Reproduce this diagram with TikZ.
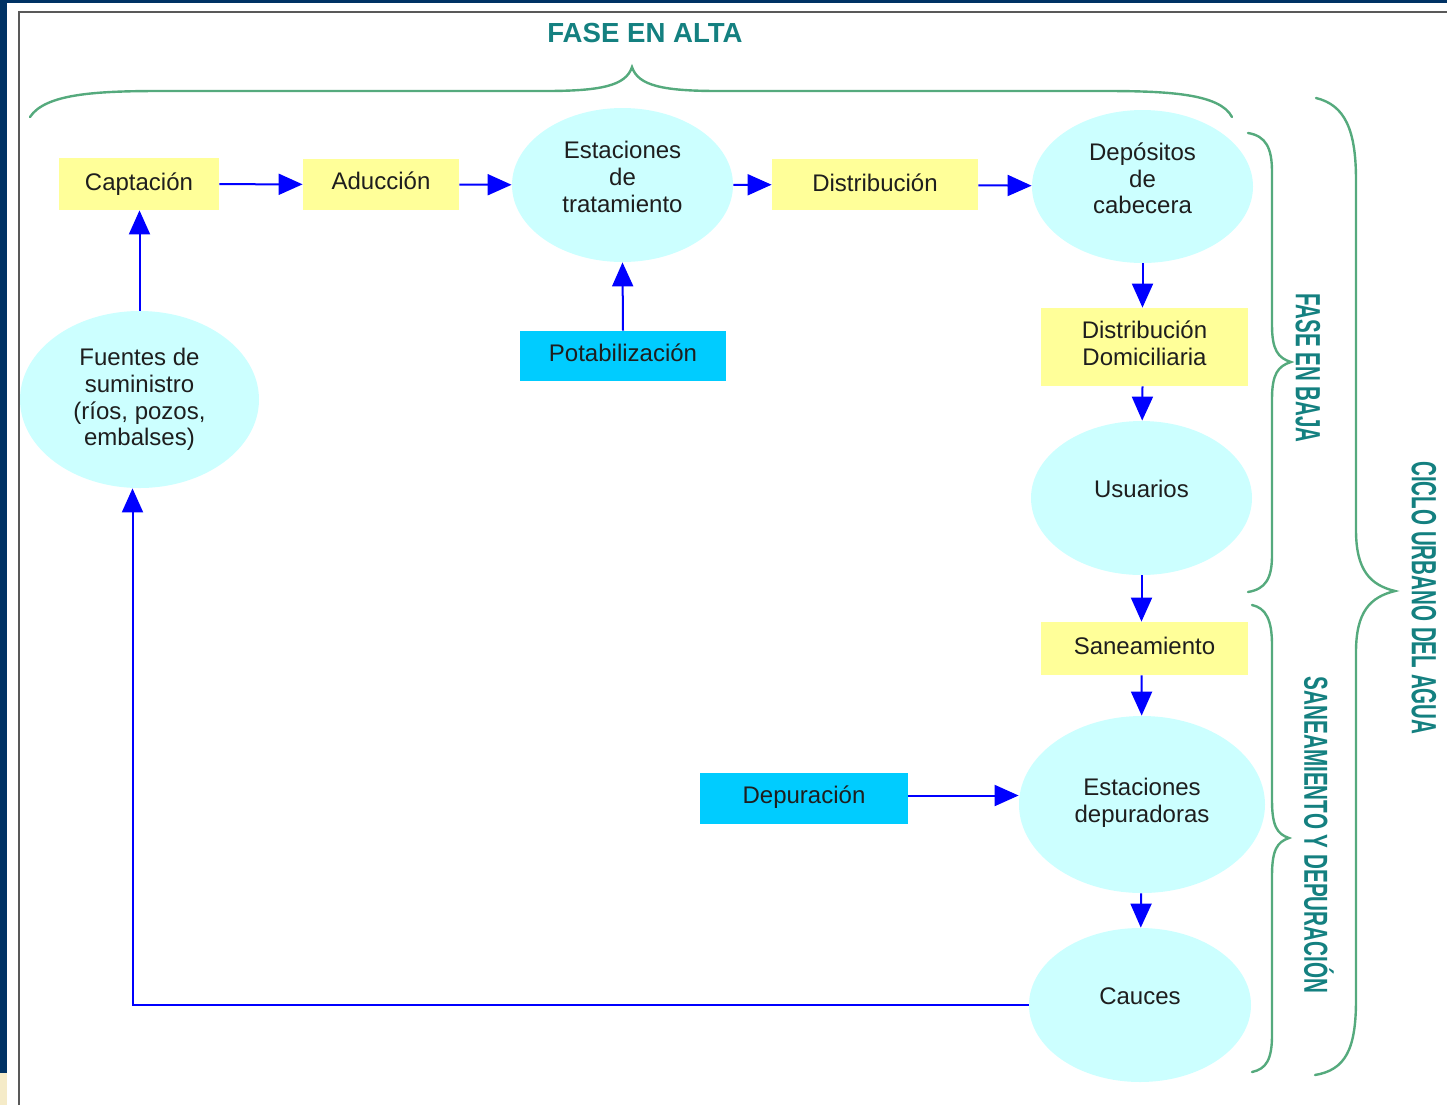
\documentclass[tikz,border=0pt]{standalone}
\usepackage{fontspec}
\setmainfont{Liberation Sans}
\usepackage{graphicx}
\usetikzlibrary{shapes.geometric,arrows.meta,calc}
\definecolor{navy}{RGB}{0,50,100}
\definecolor{cream}{RGB}{245,235,200}
\definecolor{yel}{RGB}{255,255,153}
\definecolor{lcyan}{RGB}{204,255,255}
\definecolor{dcyan}{RGB}{0,204,255}
\definecolor{brgreen}{RGB}{85,170,125}
\definecolor{tealtxt}{RGB}{20,128,128}
\definecolor{txt}{RGB}{30,30,30}
\tikzset{
  base/.style={font=\fontsize{12}{13.3}\selectfont, text=txt, align=center, inner sep=0pt},
  ybox/.style={base, rectangle, fill=yel},
  cbox/.style={base, rectangle, fill=dcyan},
  ell/.style={base, ellipse, fill=lcyan},
  lab/.style={base, label distance=0pt},
  conn/.style={blue, line width=1pt, -{Triangle[length=12pt,width=10.5pt]}},
  brace/.style={brgreen, line width=1.2pt, line cap=round},
  ttl/.style={text=tealtxt, inner sep=0pt, font=\fontsize{13.8}{15}\selectfont\bfseries},
  vttl/.style={text=tealtxt, inner sep=0pt, rotate=-90, font=\fontsize{17.5}{20}\selectfont\bfseries}
}
\begin{document}
\begin{tikzpicture}[x=0.5pt,y=-0.5pt]
\useasboundingbox (0,0) rectangle (1447,1105);
% frame
\fill[navy] (0,0) rectangle (1447,3);
\fill[navy] (0,0) rectangle (7,1073);
\fill[cream] (0,1073) rectangle (7,1105);
\draw[gray!70!black, line width=1pt] (19,1105) -- (19,12) -- (1447,12);

% nodes
\node[ybox, minimum width=80pt, minimum height=26pt] (cap) at (139,184) {Captación};
\node[ybox, minimum width=78pt, minimum height=25.5pt,
  label={[lab, yshift=1.8pt]center:Aducción}] (adu) at (381,184.5) {};
\node[ell, minimum width=110.5pt, minimum height=77pt,
  label={[lab, yshift=4pt]center:{Estaciones\\de\\tratamiento}}] (est) at (622.5,185) {};
\node[ybox, minimum width=103pt, minimum height=25.5pt,
  label={[lab, yshift=0.8pt]center:Distribución}] (dist) at (875,184.5) {};
\node[ell, minimum width=110.5pt, minimum height=76.5pt,
  label={[lab, yshift=4pt]center:{Depósitos\\de\\cabecera}}] (depo) at (1142.5,186.5) {};
\node[ybox, minimum width=103.5pt, minimum height=39pt,
  label={[lab, yshift=2pt]center:{Distribución\\Domiciliaria}}] (dd) at (1144.5,347) {};
\node[ell, minimum width=110.5pt, minimum height=77pt,
  label={[lab, yshift=4.5pt]center:Usuarios}] (usu) at (1141.5,498) {};
\node[ybox, minimum width=103.5pt, minimum height=26.5pt,
  label={[lab, yshift=1.5pt]center:Saneamiento}] (san) at (1144.5,648.5) {};
\node[ell, minimum width=123pt, minimum height=88.5pt,
  label={[lab, yshift=1pt]center:{Estaciones\\depuradoras}}] (edep) at (1142,804.5) {};
\node[ell, minimum width=111pt, minimum height=77pt,
  label={[lab, yshift=4.5pt]center:Cauces}] (cau) at (1140,1005) {};
\node[cbox, minimum width=104pt, minimum height=25.5pt,
  label={[lab, yshift=0.8pt]center:Depuración}] (dep) at (804,798.5) {};
\node[cbox, minimum width=103pt, minimum height=25pt,
  label={[lab, yshift=1.5pt]center:Potabilización}] (pot) at (623,356) {};
\node[ell, minimum width=119.5pt, minimum height=88.5pt] (fue) at (139.5,399.5) {Fuentes de\\suministro\\(ríos, pozos,\\embalses)};

% connectors
\draw[conn] (cap) -- (adu);
\draw[conn] (adu) -- (est);
\draw[conn] (est) -- (dist);
\draw[conn] (dist) -- (depo);
\draw[conn] (depo.south) -- (depo.south |- dd.north);
\draw[conn] (dd.south -| depo.south) -- (usu);
\draw[conn] (usu.south) -- (usu.south |- san.north);
\draw[conn] (san.south -| usu.south) -- (edep);
\draw[conn] (edep) -- (cau);
\coordinate (dpo) at ([yshift=1.5pt]dep.east);
\draw[conn] (dpo) -- (dpo -| edep.west);
\draw[conn] (pot.north) -- (est.south);
\draw[conn] (fue.north) -- (fue.north |- cap.south);
\coordinate (fb) at ([xshift=-3.5pt]fue.south);
\draw[conn] (cau.west) -| (fb);

% braces
\draw[brace] (30,117) .. controls (45,94) and (95,91) .. (160,91) -- (545,91)
  .. controls (600,91) and (626,86) .. (632,67)
  .. controls (638,86) and (664,91) .. (719,91) -- (1105,91)
  .. controls (1170,91) and (1220,94) .. (1232,117);
\draw[brace] (1248,133) .. controls (1266,136) and (1272,148) .. (1272,172) -- (1272,325)
  .. controls (1272,350) and (1278,358) .. (1291,362)
  .. controls (1278,366) and (1272,374) .. (1272,399) -- (1272,555)
  .. controls (1272,578) and (1266,589) .. (1248,592);
\draw[brace] (1252,605) .. controls (1266,608) and (1272,620) .. (1272,645) -- (1272,800)
  .. controls (1272,826) and (1277,834) .. (1289,838)
  .. controls (1277,842) and (1272,850) .. (1272,876) -- (1272,1035)
  .. controls (1272,1060) and (1266,1069) .. (1252,1072);
\draw[brace] (1316,98) .. controls (1345,105) and (1356,130) .. (1356,180) -- (1356,530)
  .. controls (1356,570) and (1370,585) .. (1395,591)
  .. controls (1370,597) and (1356,612) .. (1356,652) -- (1356,1000)
  .. controls (1356,1050) and (1345,1070) .. (1315,1075);

% titles
\node[ttl] (talta) at (645,33) {FASE EN ALTA};
\node[vttl] (tbaja) at (1308,368) {\scalebox{0.585}[1]{FASE EN BAJA}};
\node[vttl] (tsan) at (1319,835) {\scalebox{0.59}[0.95]{SANEAMIENTO Y DEPURACIÓN}};
\node[vttl] (tciclo) at (1424,598) {\scalebox{0.588}[1]{CICLO URBANO DEL AGUA}};
\end{tikzpicture}
\end{document}
